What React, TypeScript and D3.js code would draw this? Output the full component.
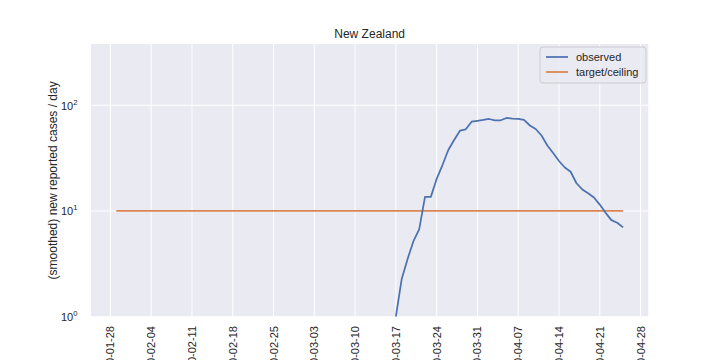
import React from "react";
import * as d3 from "d3";

const observedStart = "2020-03-17";
const observedValues = [
  1.0, 2.27, 3.5, 5.15, 6.7, 13.6, 13.6, 20.1, 27.2, 37.8, 47, 57.5, 59.3, 70,
  71.3, 72.6, 74.2, 72.1, 72.1, 75.9, 74.8, 74.2, 72.6, 64.4, 59.7, 51.8, 41.7,
  35.4, 29.7, 25.8, 23.5, 18.3, 16.0, 14.7, 13.4, 11.5, 9.6, 8.2, 7.75, 7.0,
];
const targetDates = ["2020-01-29", "2020-04-25"];
const targetValue = 10;
const xTickLabels = [
  "2020-01-28", "2020-02-04", "2020-02-11", "2020-02-18", "2020-02-25",
  "2020-03-03", "2020-03-10", "2020-03-17", "2020-03-24", "2020-03-31",
  "2020-04-07", "2020-04-14", "2020-04-21", "2020-04-28",
];
const yTicks = [1, 10, 100];
const yTickExps = ["0", "1", "2"];

const DAY = 86400000;
const parse = (s: string) => new Date(s + "T00:00:00Z");

export default function App() {
  const W = 720, H = 360;
  const left = 91, right = 648.3, top = 44, bottom = 316.7;
  const font = "'Liberation Sans', Arial, sans-serif";
  const textColor = "#262626";
  const blue = "#4c72b0";
  const orange = "#dd8452";

  const t0 = parse(targetDates[0]).getTime();
  const t1 = parse(targetDates[1]).getTime();
  const x = d3
    .scaleUtc()
    .domain([new Date(t0 - 4.33 * DAY), new Date(t1 + 4.33 * DAY)])
    .range([left, right]);
  const y = d3.scaleLog().domain([1, 380]).range([bottom, top]);

  const obsStart = parse(observedStart).getTime();
  const obs = observedValues.map((v, i) => ({ d: new Date(obsStart + i * DAY), v }));
  const target = targetDates.map((s) => ({ d: parse(s), v: targetValue }));

  const line = d3
    .line<{ d: Date; v: number }>()
    .defined((p) => p.v > 0)
    .x((p) => x(p.d))
    .y((p) => y(p.v));

  const lx = 546, ly1 = 57, ly2 = 72;

  return (
    <svg
      width={W}
      height={H}
      style={{ position: "fixed", left: 0, top: 0, background: "#ffffff" }}
      fontFamily={font}
    >
      <defs>
        <clipPath id="plotclip">
          <rect x={left} y={top} width={right - left} height={bottom - top} />
        </clipPath>
      </defs>
      <rect x={left} y={top} width={right - left} height={bottom - top} fill="#eaeaf2" />
      {xTickLabels.map((s) => {
        const px = x(parse(s));
        return (
          <line key={"gx" + s} x1={px} x2={px} y1={top} y2={bottom} stroke="#ffffff" strokeWidth={1} />
        );
      })}
      {yTicks.map((t) => (
        <line key={"gy" + t} x1={left} x2={right} y1={y(t)} y2={y(t)} stroke="#ffffff" strokeWidth={1} />
      ))}
      <g clipPath="url(#plotclip)">
        <path d={line(target) || ""} fill="none" stroke={orange} strokeWidth={1.75} />
        <path d={line(obs) || ""} fill="none" stroke={blue} strokeWidth={1.75} strokeLinejoin="round" />
      </g>
      {xTickLabels.map((s) => {
        const px = x(parse(s));
        return (
          <text
            key={"xl" + s}
            transform={`translate(${px},${326}) rotate(-90)`}
            textAnchor="end"
            dominantBaseline="central"
            fontSize={11}
            fill={textColor}
          >
            {s}
          </text>
        );
      })}
      {yTicks.map((t, i) => (
        <text key={"yl" + t} x={77.5} y={y(t) + 4.5} textAnchor="end" fontSize={11} fill={textColor}>
          10
          <tspan fontSize={7.7} dy={-5}>
            {yTickExps[i]}
          </tspan>
        </text>
      ))}
      <text
        transform={`translate(${57},${(top + bottom) / 2}) rotate(-90)`}
        textAnchor="middle"
        fontSize={12}
        fill={textColor}
      >
        (smoothed) new reported cases / day
      </text>
      <text x={(left + right) / 2} y={38} textAnchor="middle" fontSize={12} fill={textColor}>
        New Zealand
      </text>
      <rect x={540} y={47} width={106} height={36} rx={3} fill="#eaeaf2" fillOpacity={0.8} stroke="#cccccc" strokeWidth={1} />
      <line x1={lx} x2={lx + 22} y1={ly1} y2={ly1} stroke={blue} strokeWidth={1.75} />
      <line x1={lx} x2={lx + 22} y1={ly2} y2={ly2} stroke={orange} strokeWidth={1.75} />
      <text x={576} y={ly1 + 4} fontSize={11} fill={textColor}>observed</text>
      <text x={576} y={ly2 + 4} fontSize={11} fill={textColor}>target/ceiling</text>
    </svg>
  );
}
